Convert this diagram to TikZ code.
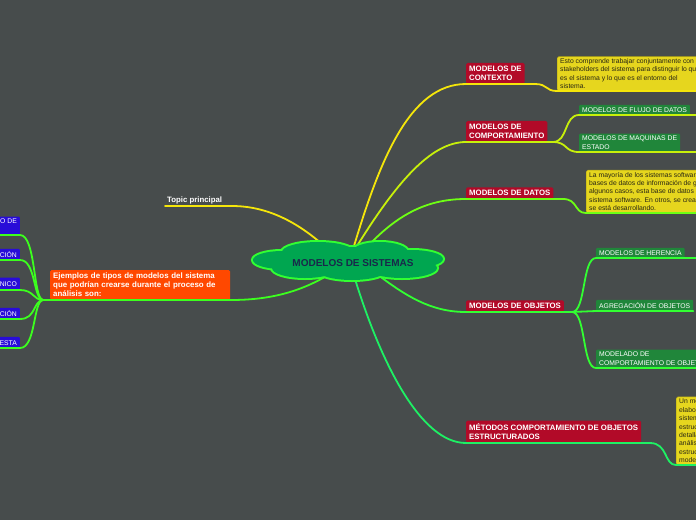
\documentclass[tikz,border=0pt]{standalone}
\usepackage{fontspec}
\setmainfont{Liberation Sans}
\definecolor{bg}{RGB}{71,76,76}
\definecolor{redbox}{RGB}{178,10,40}
\definecolor{greenbox}{RGB}{32,134,58}
\definecolor{notey}{RGB}{230,214,30}
\definecolor{notetext}{RGB}{40,38,20}
\definecolor{orangebox}{RGB}{255,72,0}
\definecolor{bluebox}{RGB}{40,12,216}
\definecolor{cloudfill}{RGB}{0,166,80}
\definecolor{cloudline}{RGB}{50,255,50}
\definecolor{ctext}{RGB}{25,40,75}
\definecolor{lyellow}{RGB}{245,230,10}
\definecolor{lyg}{RGB}{200,240,10}
\definecolor{llime}{RGB}{110,255,20}
\definecolor{lgreen}{RGB}{50,255,50}
\definecolor{lspring}{RGB}{30,240,100}
\definecolor{lleft}{RGB}{60,255,30}
\tikzset{
  redlbl/.style={fill=redbox, text=white, font=\bfseries\fontsize{7.8}{9.3}\selectfont, inner sep=3pt, rounded corners=1.5pt, align=left, anchor=south west},
  grnlbl/.style={fill=greenbox, text=white, font=\fontsize{6.8}{8.3}\selectfont, inner xsep=3pt, inner ysep=2.5pt, rounded corners=1pt, align=left, anchor=south west},
  bluelbl/.style={fill=bluebox, text=white, font=\fontsize{6.8}{8.3}\selectfont, inner xsep=3pt, inner ysep=2.5pt, rounded corners=1pt, align=left, anchor=south east},
  notebox/.style={fill=notey, draw=notey!75!black, line width=0.4pt, text=notetext, font=\fontsize{6.8}{8.4}\selectfont, inner xsep=3pt, inner ysep=2pt, rounded corners=1.5pt, align=left, anchor=south west},
  conn/.style={line width=1.8pt, line cap=round},
}
\begin{document}
\begin{tikzpicture}[x=1pt,y=-1pt]
\useasboundingbox (0,0) rectangle (696,520);
\clip (0,0) rectangle (696,520);
\fill[bg] (0,0) rectangle (696,520);

% attachment coordinates on the cloud
\coordinate (cctx) at (354,246);
\coordinate (ccomp) at (357,246);
\coordinate (cdat) at (368,246);
\coordinate (cobj) at (378,275);
\coordinate (cmet) at (355,279);
\coordinate (cejm) at (330,274);
\coordinate (ctop) at (322,244);
\coordinate (hub) at (43,300);

% boxes
\node[redlbl] (ctx) at (466,84) {MODELOS DE\\CONTEXTO};
\node[redlbl] (comp) at (466,142) {MODELOS DE\\COMPORTAMIENTO};
\node[redlbl] (dat) at (466,199) {MODELOS DE DATOS};
\node[redlbl] (obj) at (466,312) {MODELOS DE OBJETOS};
\node[redlbl] (met) at (466,443) {MÉTODOS COMPORTAMIENTO DE OBJETOS\\ESTRUCTURADOS};

\node[grnlbl] (flujo) at (579,115) {MODELOS DE FLUJO DE DATOS};
\node[grnlbl] (maq) at (579,152) {MODELOS DE MAQUINAS DE\\ESTADO};
\node[grnlbl] (her) at (596,258) {MODELOS DE HERENCIA};
\node[grnlbl] (agr) at (596,311) {AGREGACIÓN DE OBJETOS};
\node[grnlbl] (mcomp) at (596,368) {MODELADO DE\\COMPORTAMIENTO DE OBJETOS};

\node[notebox] (n1) at (557,91) {Esto comprende trabajar conjuntamente con los\\stakeholders del sistema para distinguir lo que\\es el sistema y lo que es el entorno del\\sistema.};
\node[notebox] (n2) at (586,213) {La mayoría de los sistemas software grandes utilizan\\bases de datos de información de gran tamaño. En\\algunos casos, esta base de datos es independiente del\\sistema software. En otros, se crea para el sistema que\\se está desarrollando.};
\node[notebox] (n3) at (676,465) {Un método estructurado\\elabora modelos de un\\sistema existente o de un\\estructurado proporciona un\\detallado de los pasos del\\análisis y modelado. Los\\estructurados proporcionan\\modelos del sistema.};

\node[anchor=south west, text=white, font=\bfseries\fontsize{7.8}{9.3}\selectfont, inner sep=2pt] (topic) at (165,206) {Topic principal};
\node[fill=orangebox, text=white, font=\bfseries\fontsize{7.9}{9}\selectfont, inner sep=3pt, rounded corners=1.5pt, align=left, text width=174pt, anchor=south west] (ejm) at (50,300) {Ejemplos de tipos de modelos del sistema\\que podrían crearse durante el proceso de\\análisis son:};

\node[bluelbl] (b1) at (20,235) {UN MODELO DE PROCESAMIENTO DE\\DATOS};
\node[bluelbl] (b2) at (20,260) {UN MODELO DE COMPOSICIÓN};
\node[bluelbl] (b3) at (20,290) {UN MODELO ARQUITECTÓNICO};
\node[bluelbl] (b4) at (20,319) {UN MODELO DE CLASIFICACIÓN};
\node[bluelbl] (b5) at (20,348) {UN MODELO DE ESTÍMULO-RESPUESTA};

% connectors
\draw[conn,lyellow] (cctx) .. controls (380,160) and (410,84) .. (ctx.south west) -- (535,84) .. controls (548,84) and (545,91) .. (n1.south west) -- (n1.south east);
\draw[conn,lyg] (ccomp) .. controls (395,185) and (430,142) .. (comp.south west) -- (553,142);
\draw[conn,lyg] (553,142) .. controls (568,142) and (564,115) .. (flujo.south west) -- (flujo.south east) -- (700,115);
\draw[conn,lyg] (553,142) .. controls (568,142) and (564,152) .. (maq.south west) -- (maq.south east) -- (700,152);
\draw[conn,llime] (cdat) .. controls (400,212) and (430,199) .. (dat.south west) -- (563,199) .. controls (578,199) and (574,213) .. (n2.south west) -- (n2.south east);
\draw[conn,lgreen] (cobj) .. controls (405,295) and (430,312) .. (obj.south west) -- (572,312);
\draw[conn,lgreen] (572,312) .. controls (586,312) and (582,258) .. (her.south west) -- (her.south east) -- (700,258);
\draw[conn,lgreen] (572,312) -- (agr.south west) -- (agr.south east);
\draw[conn,lgreen] (572,312) .. controls (586,312) and (582,368) .. (mcomp.south west) -- (mcomp.south east);
\draw[conn,lspring] (cmet) .. controls (380,360) and (420,443) .. (met.south west) -- (650,443) .. controls (668,443) and (664,465) .. (n3.south west) -- (n3.south east);
\draw[conn,lyellow] (ctop) .. controls (300,225) and (270,206) .. (232,206) -- (topic.south west);
\draw[conn,lleft] (cejm) .. controls (300,292) and (270,300) .. (ejm.south east) -- (ejm.south west) -- (hub);
\draw[conn,lleft] (hub) .. controls (33,299) and (36,235) .. (b1.south east) -- (b1.south west);
\draw[conn,lleft] (hub) .. controls (33,299) and (36,260) .. (b2.south east) -- (b2.south west);
\draw[conn,lleft] (hub) .. controls (33,300) and (34,290) .. (b3.south east) -- (b3.south west);
\draw[conn,lleft] (hub) .. controls (33,301) and (36,319) .. (b4.south east) -- (b4.south west);
\draw[conn,lleft] (hub) .. controls (33,301) and (36,348) .. (b5.south east) -- (b5.south west);

% cloud
\begin{scope}
\foreach \cx/\cy/\rx/\ry in {318/252/36/10, 380/252/28/10, 282/260/29/9, 412/259/31/9, 305/268/33/10, 352/270/35/10, 402/268/35/10, 350/261/70/14}
  \draw[cloudline, line width=4pt] (\cx,\cy) ellipse [x radius=\rx, y radius=\ry];
\foreach \cx/\cy/\rx/\ry in {318/252/36/10, 380/252/28/10, 282/260/29/9, 412/259/31/9, 305/268/33/10, 352/270/35/10, 402/268/35/10, 350/261/70/14}
  \fill[cloudfill] (\cx,\cy) ellipse [x radius=\rx, y radius=\ry];
\end{scope}
\node[text=ctext, font=\bfseries\fontsize{10}{12}\selectfont] (cloud) at (353,263) {MODELOS DE SISTEMAS};
\end{tikzpicture}
\end{document}
